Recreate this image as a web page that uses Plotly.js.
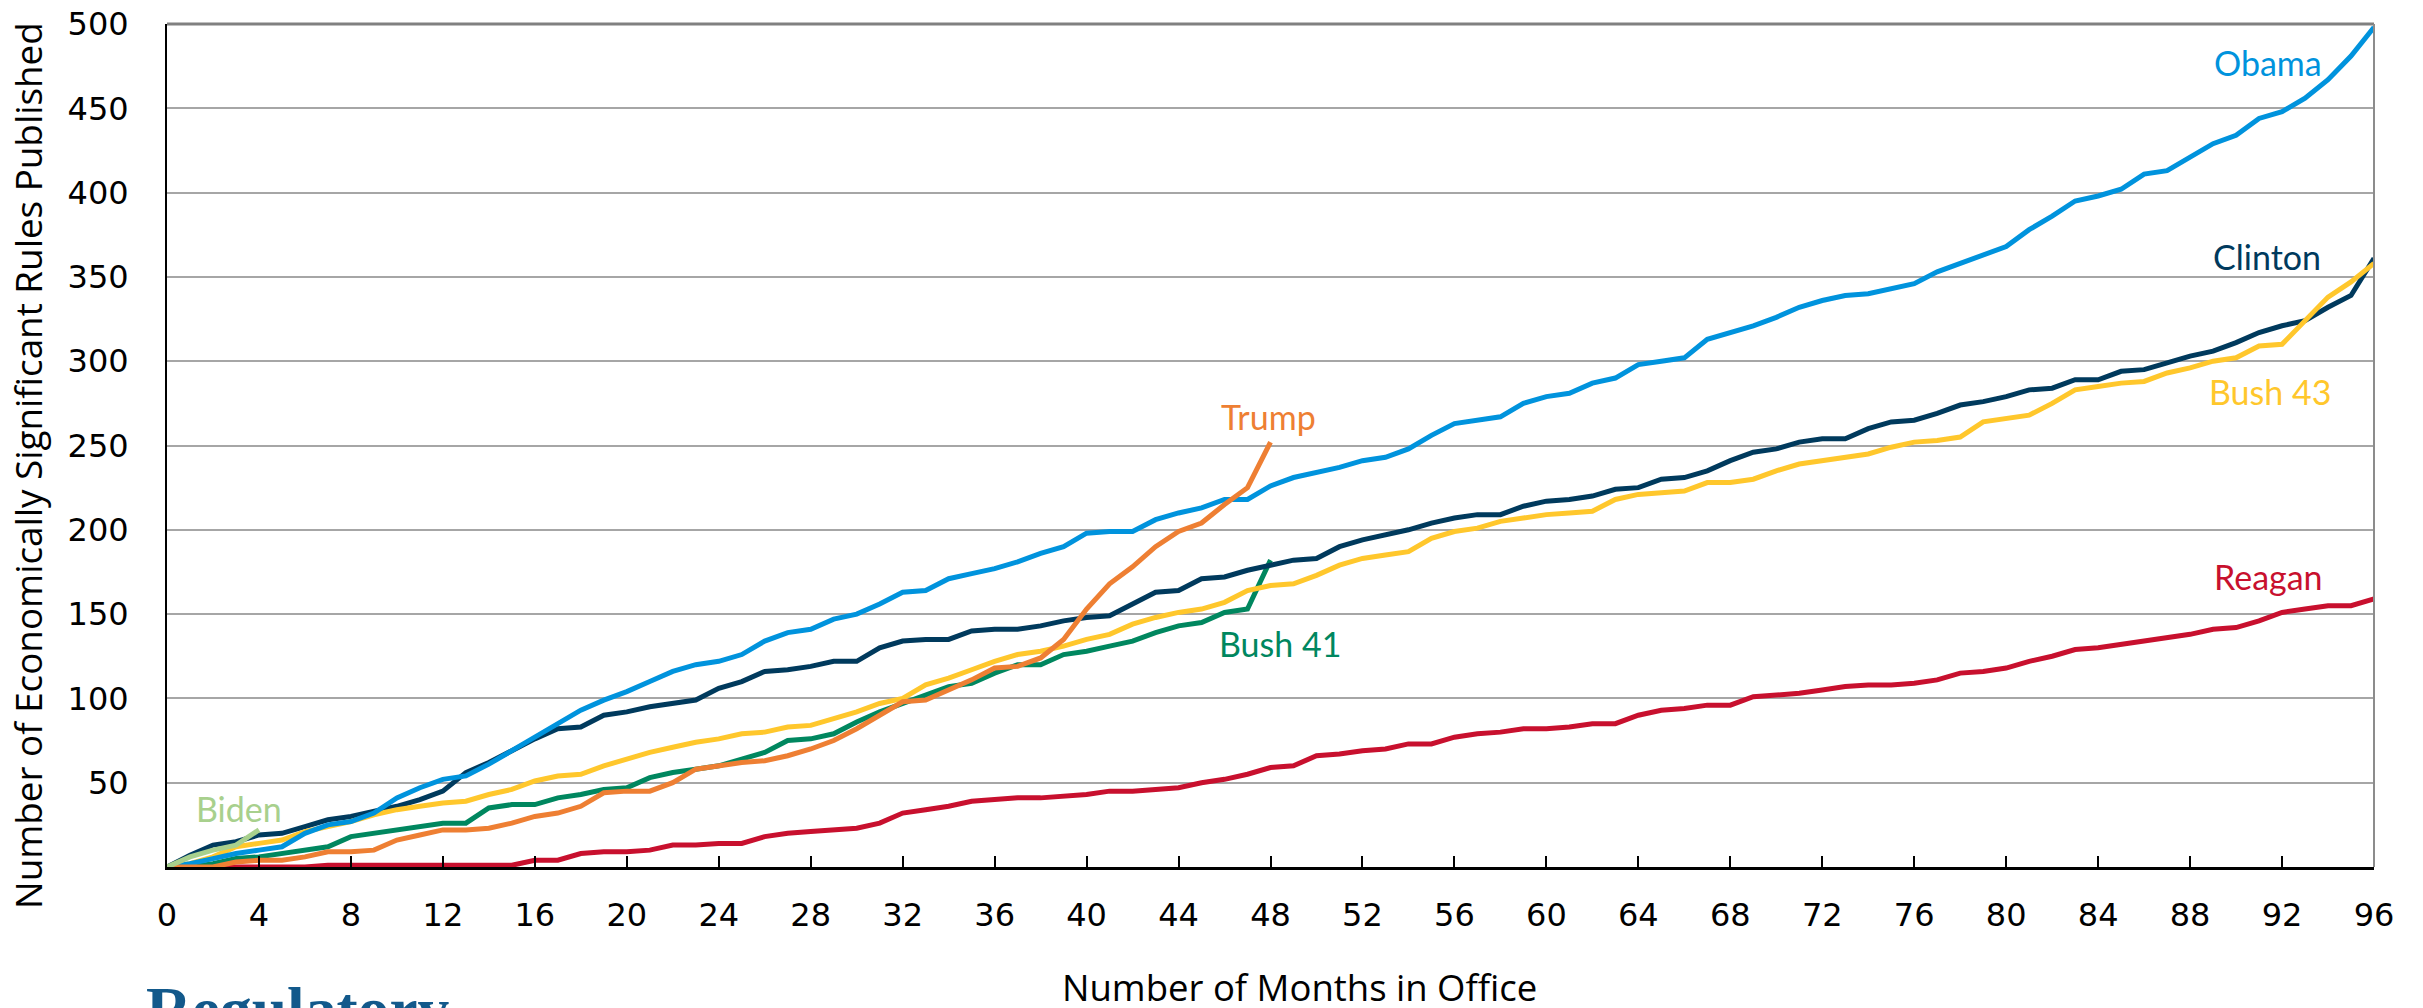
<!DOCTYPE html>
<html>
<head>
<meta charset="utf-8">
<script src="https://cdn.plot.ly/plotly-3.0.1.min.js"></script>
<style>
html,body{margin:0;padding:0;background:#ffffff;}
#chart{width:2423px;height:1008px;}
</style>
</head>
<body>
<div id="chart"></div>
<script>
// Months in office (x values)
const months = [0,1,2,3,4,5,6,7,8,9,10,11,12,13,14,15,16,17,18,19,20,21,22,23,24,25,26,27,28,29,30,31,32,33,34,35,36,37,38,39,40,41,42,43,44,45,46,47,48,49,50,51,52,53,54,55,56,57,58,59,60,61,62,63,64,65,66,67,68,69,70,71,72,73,74,75,76,77,78,79,80,81,82,83,84,85,86,87,88,89,90,91,92,93,94,95,96];

// Cumulative economically significant rules published
const reagan = [0,0,0,0,0,0,0,1,1,1,1,1,1,1,1,1,4,4,8,9,9,10,13,13,14,14,18,20,21,22,23,26,32,34,36,39,40,41,41,42,43,45,45,46,47,50,52,55,59,60,66,67,69,70,73,73,77,79,80,82,82,83,85,85,90,93,94,96,96,101,102,103,105,107,108,108,109,111,115,116,118,122,125,129,130,132,134,136,138,141,142,146,151,153,155,155,159];
const bush41 = [0,0,2,5,6,8,10,12,18,20,22,24,26,26,35,37,37,41,43,46,47,53,56,58,60,64,68,75,76,79,86,92,97,102,107,109,115,120,120,126,128,131,134,139,143,145,151,153,182];
const clinton = [0,7,13,15,19,20,24,28,30,33,36,40,45,56,62,69,76,82,83,90,92,95,97,99,106,110,116,117,119,122,122,130,134,135,135,140,141,141,143,146,148,149,156,163,164,171,172,176,179,182,183,190,194,197,200,204,207,209,209,214,217,218,220,224,225,230,231,235,241,246,248,252,254,254,260,264,265,269,274,276,279,283,284,289,289,294,295,299,303,306,311,317,321,324,332,339,361];
const bush43 = [0,2,6,12,14,16,21,24,27,31,34,36,38,39,43,46,51,54,55,60,64,68,71,74,76,79,80,83,84,88,92,97,100,108,112,117,122,126,128,131,135,138,144,148,151,153,157,164,167,168,173,179,183,185,187,195,199,201,205,207,209,210,211,218,221,222,223,228,228,230,235,239,241,243,245,249,252,253,255,264,266,268,275,283,285,287,288,293,296,300,302,309,310,324,338,347,358];
const obama = [0,2,5,8,10,12,20,25,27,32,41,47,52,54,61,69,77,85,93,99,104,110,116,120,122,126,134,139,141,147,150,156,163,164,171,174,177,181,186,190,198,199,199,206,210,213,218,218,226,231,234,237,241,243,248,256,263,265,267,275,279,281,287,290,298,300,302,313,317,321,326,332,336,339,340,343,346,353,358,363,368,378,386,395,398,402,411,413,421,429,434,444,448,456,467,481,498];
const trump = [0,0,0,3,4,4,6,9,9,10,16,19,22,22,23,26,30,32,36,44,45,45,50,58,60,62,63,66,70,75,82,90,98,99,105,111,118,119,124,135,153,168,178,190,199,204,215,225,252];
const biden = [0,6,10,13,22];

const seriesNames = ['Reagan','Bush 41','Clinton','Bush 43','Obama','Trump','Biden'];
const seriesData = [reagan, bush41, clinton, bush43, obama, trump, biden];
const seriesColors = ['#c8102e','#00875f','#003a5d','#ffc72c','#0093dd','#ee7f33','#a8d08d'];

// Label positions (month, value) for the series names
const labelX = [91.4, 48.4, 91.35, 91.46, 91.4, 47.92, 3.14];
const labelY = [172.4, 132.6, 362.3, 281.9, 476.9, 267.4, 34.7];

const yTickVals = [50,100,150,200,250,300,350,400,450,500];
const xTitle = 'Number of Months in Office';
const yTitle = 'Number of Economically Significant Rules Published';
const logoText = 'Regulatory';

const traces = seriesNames.map((name, i) => ({
  type: 'scatter',
  mode: 'lines',
  name: name,
  x: months.slice(0, seriesData[i].length),
  y: seriesData[i],
  line: {color: seriesColors[i], width: 5, shape: 'linear'},
  hoverinfo: 'x+y+name'
}));

const annotations = seriesNames.map((name, i) => ({
  x: labelX[i], y: labelY[i], xref: 'x', yref: 'y',
  text: name, showarrow: false,
  xanchor: 'center', yanchor: 'middle',
  font: {family: 'Lato', size: 34, color: seriesColors[i]}
}));

annotations.push({
  x: 0.513, y: -0.142, xref: 'paper', yref: 'paper',
  text: xTitle, showarrow: false, xanchor: 'center', yanchor: 'middle',
  font: {family: 'Open Sans', size: 36.5, color: '#000'}
});
annotations.push({
  x: -0.0633, y: 0.476, xref: 'paper', yref: 'paper',
  text: yTitle, showarrow: false, textangle: -90, xanchor: 'center', yanchor: 'middle',
  font: {family: 'Open Sans', size: 36.8, color: '#000'}
});
annotations.push({
  x: -0.0105, y: -0.125, xref: 'paper', yref: 'paper',
  text: logoText, showarrow: false, xanchor: 'left', yanchor: 'top',
  font: {family: 'Liberation Serif', size: 63.5, color: '#12598b', weight: 'bold'}
});

const layout = {
  width: 2423, height: 1008,
  margin: {l: 167, r: 49, t: 24, b: 141, pad: 0},
  paper_bgcolor: '#ffffff', plot_bgcolor: '#ffffff',
  showlegend: false,
  xaxis: {
    range: [0, 96], tick0: 0, dtick: 4,
    ticks: 'inside', ticklen: 11, tickwidth: 2, tickcolor: '#000',
    showline: true, linecolor: '#000', linewidth: 3,
    showgrid: false, zeroline: false,
    tickfont: {family: 'DejaVu Sans', size: 32, color: '#000'},
    ticklabelstandoff: 18
  },
  yaxis: {
    range: [0, 500], tickmode: 'array', tickvals: yTickVals,
    ticks: '', showline: true, linecolor: '#000', linewidth: 2,
    showgrid: true, gridcolor: '#a6a6a6', gridwidth: 2,
    zeroline: false,
    tickfont: {family: 'DejaVu Sans', size: 32, color: '#000'},
    ticklabelstandoff: 30
  },
  shapes: [
    {type: 'line', xref: 'paper', yref: 'paper', x0: 0, x1: 1, y0: 1, y1: 1, line: {color: '#808080', width: 3}},
    {type: 'line', xref: 'paper', yref: 'paper', x0: 1, x1: 1, y0: 0, y1: 1, line: {color: '#8c8c8c', width: 2}}
  ],
  annotations: annotations
};

Plotly.newPlot('chart', traces, layout, {displayModeBar: false, staticPlot: true});
</script>
</body>
</html>
